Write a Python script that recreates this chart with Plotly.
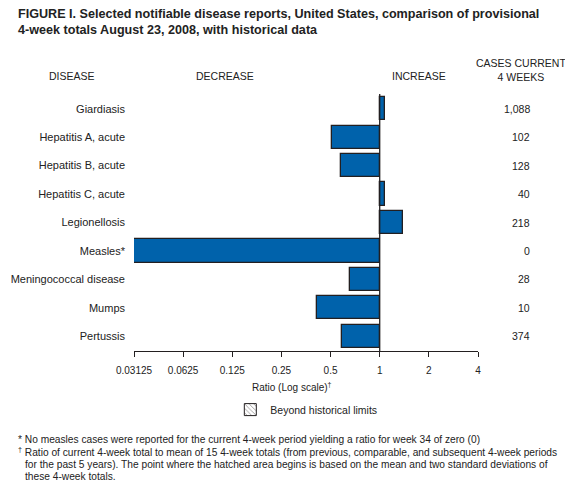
import plotly.graph_objects as go

diseases = [
    "Giardiasis",
    "Hepatitis A, acute",
    "Hepatitis B, acute",
    "Hepatitis C, acute",
    "Legionellosis",
    "Measles*",
    "Meningococcal disease",
    "Mumps",
    "Pertussis",
]
# ratio of current 4-week total to historical mean
ratios = [1.08, 0.51, 0.58, 1.08, 1.39, 0.0, 0.66, 0.41, 0.59]
cases = ["1,088", "102", "128", "40", "218", "0", "28", "10", "374"]

tick_vals = [0.03125, 0.0625, 0.125, 0.25, 0.5, 1, 2, 4]
tick_text = ["0.03125", "0.0625", "0.125", "0.25", "0.5", "1", "2", "4"]

FONT = "Liberation Sans, Arial, Helvetica, sans-serif"
BLUE = "#0062AB"
DARK = "#231F20"
TXT = "#222"

x_min = tick_vals[0]

# measles ratio is 0, draw it to the left edge of the log axis
drawn = [max(r, x_min) for r in ratios]

fig = go.Figure()

fig.add_trace(go.Bar(
    y=diseases,
    x=[d - 1 for d in drawn],
    base=1,
    orientation="h",
    width=0.82,
    marker=dict(color=BLUE, line=dict(color=DARK, width=1.3)),
    showlegend=False,
    hoverinfo="skip",
))

# legend key only
fig.add_trace(go.Bar(
    y=[None],
    x=[None],
    orientation="h",
    name="Beyond historical limits",
    marker=dict(
        color="white",
        line=dict(color=DARK, width=1),
        pattern=dict(shape="\\", fgcolor=DARK, bgcolor="white", size=4, solidity=0.25),
    ),
    showlegend=True,
))

fig.add_shape(type="line", xref="x", yref="paper", x0=1, x1=1, y0=0, y1=1,
              line=dict(color=DARK, width=1.3))

for d, c in zip(diseases, cases):
    fig.add_annotation(x=1.157, y=d, xref="paper", yref="y", text=c,
                       showarrow=False, xanchor="right",
                       font=dict(size=10.5, color=TXT))

headers = [
    ("DISEASE", -0.180, 1.070),
    ("DECREASE", 0.2645, 1.070),
    ("INCREASE", 0.8285, 1.070),
    ("CASES CURRENT<br>4 WEEKS", 1.124, 1.093),
]
for txt, x, y in headers:
    fig.add_annotation(x=x, y=y, xref="paper", yref="paper", text=txt,
                       showarrow=False, xanchor="center", yanchor="middle",
                       font=dict(size=10.5, color=TXT))

fig.add_annotation(
    x=-0.342, y=1.281, xref="paper", yref="paper",
    text="<b>FIGURE I. Selected notifiable disease reports, United States, comparison of provisional<br>"
         "4-week totals August 23, 2008, with historical data</b>",
    showarrow=False, xanchor="left", yanchor="middle", align="left",
    font=dict(size=12.6, color=TXT),
)

fig.add_annotation(x=0.459, y=-0.140, xref="paper", yref="paper",
                   text="Ratio (Log scale)<sup>†</sup>", showarrow=False,
                   xanchor="center", yanchor="middle",
                   font=dict(size=10, color=TXT))

notes = [
    ("* No measles cases were reported for the current 4-week period yielding a ratio for week 34 of zero (0)", -0.342),
    ("<sup>†</sup> Ratio of current 4-week total to mean of 15 4-week totals (from previous, comparable, and subsequent 4-week periods", -0.342),
    ("for the past 5 years). The point where the hatched area begins is based on the mean and two standard deviations of", -0.323),
    ("these 4-week totals.", -0.323),
]
note_y = [439, 452, 464, 476]
for (txt, x), py in zip(notes, note_y):
    fig.add_annotation(x=x, y=(351 - py) / 257, xref="paper", yref="paper",
                       text=txt, showarrow=False, xanchor="left", yanchor="middle",
                       font=dict(size=10.2, color=TXT))

# the page adds an 8px body margin, so the figure is 8px smaller than the window
fig.update_layout(
    width=565,
    height=481,
    margin=dict(l=126, r=95, t=86, b=138),
    paper_bgcolor="white",
    plot_bgcolor="white",
    font=dict(family=FONT, size=10, color=TXT),
    bargap=0,
    legend=dict(x=0.28, y=-0.228, xanchor="left", yanchor="middle",
                font=dict(size=10.5), bgcolor="rgba(0,0,0,0)"),
)

fig.update_xaxes(
    type="log",
    range=[-1.50515, 0.60206],
    tickvals=tick_vals,
    ticktext=tick_text,
    ticks="outside",
    ticklen=5,
    tickcolor=DARK,
    showline=True,
    linecolor=DARK,
    linewidth=1,
    showgrid=False,
    zeroline=False,
    automargin=False,
    ticklabelstandoff=5,
    tickfont=dict(size=10),
)
fig.update_yaxes(
    range=[8.52, -0.52],
    showgrid=False,
    zeroline=False,
    showline=False,
    ticks="",
    ticklabelstandoff=8,
    automargin=False,
    tickfont=dict(size=11),
)

fig.write_html("out.html")
